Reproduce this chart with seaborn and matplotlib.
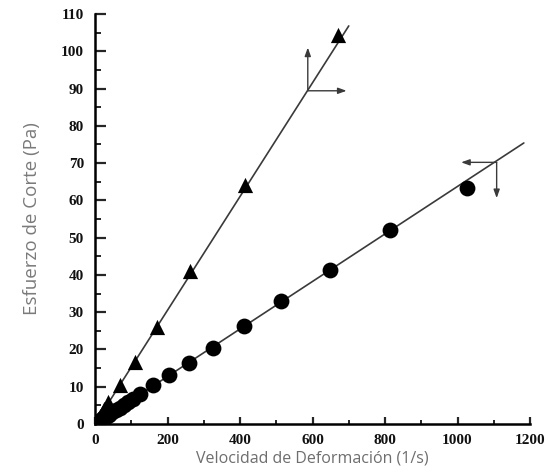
import matplotlib
matplotlib.use("Agg")
import matplotlib.pyplot as plt
import seaborn as sns
import pandas as pd
import numpy as np
from matplotlib.ticker import MultipleLocator

# --- data ---
tri_x = [0, 4, 8, 13, 19, 26, 36, 69, 110, 171, 262, 414, 670]
tri_y = [0, 0.7, 1.3, 2.1, 3.0, 4.1, 5.9, 10.5, 16.6, 26.0, 41.0, 64.1, 104.3]

circ_x = [0, 5, 10, 16, 22, 30, 38, 47, 57, 68, 80, 92, 105, 124, 160, 204, 259, 326, 411, 513, 648, 814, 1026]
circ_y = [0, 0.4, 0.7, 1.1, 1.5, 2.0, 2.5, 3.1, 3.7, 4.4, 5.2, 6.0, 6.8, 8.0, 10.5, 13.1, 16.4, 20.4, 26.3, 33.0, 41.3, 52.0, 63.3]

fit_tri_x = [0, 700]
fit_tri_y = [0, 106.8]
fit_circ_x = [0, 1183]
fit_circ_y = [0, 75.4]

# arrow annotations (origin, end points)
arrows = [
    ((587, 89.4), (587, 101.0)),
    ((587, 89.4), (694, 89.4)),
    ((1108, 70.2), (1010, 70.2)),
    ((1108, 70.2), (1108, 60.6)),
]

x_label = "Velocidad de Deformación (1/s)"
y_label = "Esfuerzo de Corte (Pa)"

sns.set_style("ticks")
plt.rcParams['font.family'] = ['DejaVu Sans']

fig = plt.figure(figsize=(5.5, 4.76), dpi=100)
ax = fig.add_axes([95/550, 1 - 424/476, (530-95)/550, (424-14)/476])

line_col = "#3a3a3a"
ax.plot(fit_tri_x, fit_tri_y, color=line_col, lw=1.2, zorder=2)
ax.plot(fit_circ_x, fit_circ_y, color=line_col, lw=1.2, zorder=2)

df_t = pd.DataFrame({"x": tri_x, "y": tri_y})
df_c = pd.DataFrame({"x": circ_x, "y": circ_y})
sns.scatterplot(data=df_t, x="x", y="y", marker="^", s=120, color="black",
                edgecolor="black", linewidth=0, ax=ax, zorder=3)
sns.scatterplot(data=df_c, x="x", y="y", marker="o", s=130, color="black",
                edgecolor="black", linewidth=0, ax=ax, zorder=3)

for (x0, y0), (x1, y1) in arrows:
    ax.annotate("", xy=(x1, y1), xytext=(x0, y0),
                arrowprops=dict(arrowstyle="-|>,head_length=0.5,head_width=0.18",
                                color=line_col, lw=1.0, shrinkA=0, shrinkB=0))

ax.set_xlim(0, 1200)
ax.set_ylim(0, 110)
ax.xaxis.set_major_locator(MultipleLocator(200))
ax.xaxis.set_minor_locator(MultipleLocator(100))
ax.yaxis.set_major_locator(MultipleLocator(10))
ax.yaxis.set_minor_locator(MultipleLocator(5))

sns.despine(ax=ax)
for s in ["left", "bottom"]:
    ax.spines[s].set_linewidth(1.8)
    ax.spines[s].set_color("black")

ax.tick_params(axis="y", which="major", direction="in", length=8, width=1.6, pad=8)
ax.tick_params(axis="y", which="minor", direction="in", length=4.5, width=1.4)
ax.tick_params(axis="x", which="major", direction="in", length=5, width=1.6, pad=7)
ax.tick_params(axis="x", which="minor", direction="in", length=3, width=1.4)

for lab in ax.get_xticklabels() + ax.get_yticklabels():
    lab.set_fontfamily("Liberation Serif")
    lab.set_fontweight("bold")
    lab.set_fontsize(11)
    lab.set_color("#111111")

ax.set_xlabel(x_label, fontsize=11.5, color="#6e6e6e", family="Open Sans", labelpad=3)
ax.set_ylabel(y_label, fontsize=13.5, color="#7a7a7a", family="Open Sans", labelpad=14)
ax.set_facecolor("white")
ax.patch.set_alpha(0)

fig.savefig("out.png", dpi=100, facecolor="white")
